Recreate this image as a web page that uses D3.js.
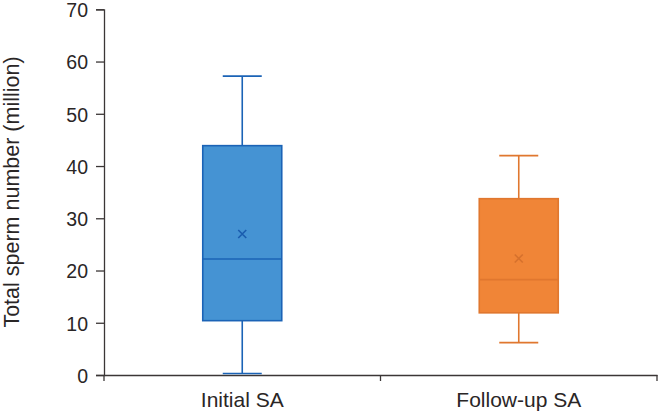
<!DOCTYPE html>
<html><head><meta charset="utf-8">
<script src="https://cdn.jsdelivr.net/npm/d3@7"></script>
<style>body{margin:0;background:#fff}svg{display:block}</style>
</head><body>
<svg id="c" width="661" height="414"></svg>
<script>
const categories = ["Initial SA", "Follow-up SA"];
const minVals = [0.3, 6.2];
const q1Vals = [10.4, 11.9];
const medianVals = [22.2, 18.25];
const q3Vals = [43.9, 33.75];
const maxVals = [57.2, 42.0];
const meanVals = [27.0, 22.3];
const yTicks = [0, 10, 20, 30, 40, 50, 60, 70];
const fills = ["#4593d3", "#f08537"];
const strokes = ["#1b63b6", "#e0772f"];
const meanColors = ["#1a5cae", "#d6712d"];

const svg = d3.select("#c");
const font = "'Liberation Sans', Arial, Helvetica, sans-serif";
const x = d3.scaleBand().domain(categories).range([104, 657]);
const y = d3.scaleLinear().domain([0, 70]).range([375, 9.3]);
const axisColor = "#3b3636";

// Y axis
const ya = svg.append("g").attr("transform", "translate(104,0)")
  .call(d3.axisLeft(y).tickValues(yTicks).tickSize(8).tickPadding(8));
ya.select(".domain").attr("stroke", axisColor).attr("stroke-width", 1.3);
ya.selectAll(".tick line").attr("stroke", axisColor).attr("stroke-width", 1.3);
ya.selectAll(".tick text").attr("font-family", font).attr("font-size", 19.5)
  .attr("dy", "0.38em").attr("fill", "#2a2626");

// X axis
const xa = svg.append("g").attr("transform", "translate(0,375)")
  .call(d3.axisBottom(x).tickSize(0).tickPadding(17).tickSizeOuter(0));
xa.select(".domain").attr("stroke", axisColor).attr("stroke-width", 1.3);
xa.selectAll(".tick text").attr("font-family", font).attr("font-size", 21).attr("fill", "#2a2626");
// boundary ticks
const bounds = [x.range()[0], ...categories.slice(1).map(c => x(c)), x.range()[1]];
svg.append("g").selectAll("line").data(bounds).join("line")
  .attr("x1", d => d).attr("x2", d => d).attr("y1", 375).attr("y2", 381)
  .attr("stroke", axisColor).attr("stroke-width", 1.3);

// y label
svg.append("text")
  .attr("transform", "translate(18.5,192) rotate(-90)")
  .attr("text-anchor", "middle")
  .attr("font-family", font).attr("font-size", 21.5).attr("fill", "#2a2626")
  .text("Total sperm number (million)");

const boxW = 79, capW = 39;
categories.forEach((c, i) => {
  const cx = x(c) + x.bandwidth() / 2;
  const g = svg.append("g");
  const st = strokes[i];
  // whiskers
  g.append("line").attr("x1", cx).attr("x2", cx).attr("y1", y(maxVals[i])).attr("y2", y(q3Vals[i])).attr("stroke", st).attr("stroke-width", 1.6);
  g.append("line").attr("x1", cx).attr("x2", cx).attr("y1", y(q1Vals[i])).attr("y2", y(minVals[i])).attr("stroke", st).attr("stroke-width", 1.6);
  g.append("line").attr("x1", cx - capW/2).attr("x2", cx + capW/2).attr("y1", y(maxVals[i])).attr("y2", y(maxVals[i])).attr("stroke", st).attr("stroke-width", 1.6);
  g.append("line").attr("x1", cx - capW/2).attr("x2", cx + capW/2).attr("y1", y(minVals[i])).attr("y2", y(minVals[i])).attr("stroke", st).attr("stroke-width", 1.6);
  // box
  g.append("rect").attr("x", cx - boxW/2).attr("width", boxW)
    .attr("y", y(q3Vals[i])).attr("height", y(q1Vals[i]) - y(q3Vals[i]))
    .attr("fill", fills[i]).attr("stroke", st).attr("stroke-width", 1.6);
  g.append("line").attr("x1", cx - boxW/2).attr("x2", cx + boxW/2).attr("y1", y(medianVals[i])).attr("y2", y(medianVals[i])).attr("stroke", st).attr("stroke-width", 1.6);
  // mean x
  const my = y(meanVals[i]), s = 4;
  g.append("path").attr("d", `M${cx-s},${my-s}L${cx+s},${my+s}M${cx-s},${my+s}L${cx+s},${my-s}`)
    .attr("stroke", meanColors[i]).attr("stroke-width", 1.6).attr("fill", "none");
});
</script>
</body></html>
